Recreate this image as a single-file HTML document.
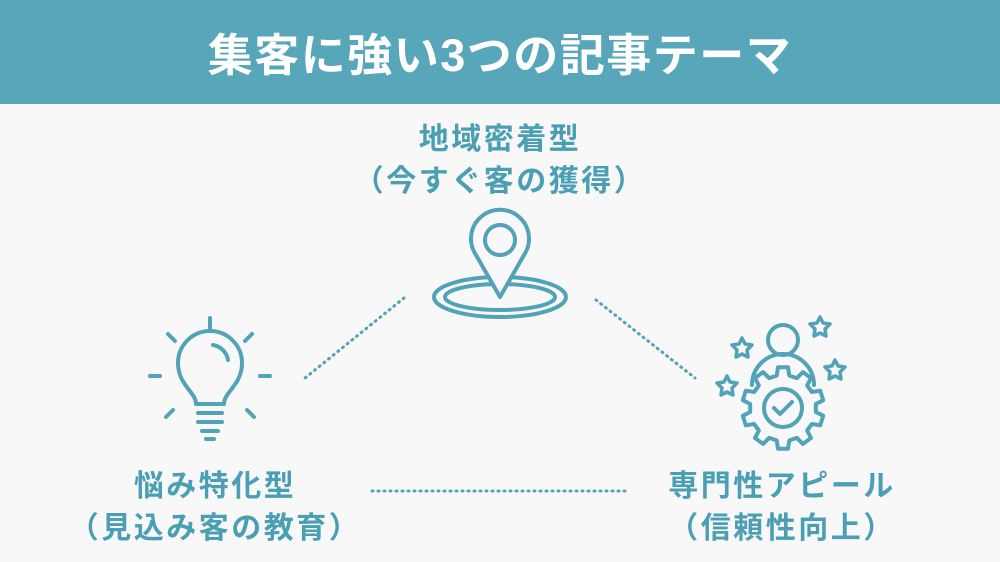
<!DOCTYPE html>
<html><head><meta charset="utf-8"><style>
body{margin:0;width:1000px;height:562px;background:#f8f8f8;overflow:hidden;font-family:"Liberation Sans","Noto Sans CJK JP",sans-serif;position:relative}
.hd{position:absolute;left:0;top:0;width:1000px;height:104px;background:#57a6b9;color:#fff;font-size:45px;font-weight:bold;text-align:center;line-height:112px;letter-spacing:1.5px}
.t{position:absolute;color:#4b9fb4;font-weight:bold;font-size:30px;text-align:center;width:400px;line-height:42px;letter-spacing:2.5px}
svg{position:absolute;left:0;top:0}
</style></head><body>
<div class="hd">集客に強い3つの記事テーマ</div>
<div class="t" style="left:300px;top:119px">地域密着型<br>（今すぐ客の獲得）</div>
<div class="t" style="left:15px;top:466px">悩み特化型<br>（見込み客の教育）</div>
<div class="t" style="left:582px;top:466px">専門性アピール<br>（信頼性向上）</div>
<svg width="1000" height="562" fill="none" stroke="#52a3b7" stroke-width="4" stroke-linecap="round" stroke-linejoin="round">
<g stroke-dasharray="1 5" stroke-width="3">
<line x1="404" y1="298" x2="305" y2="378"/>
<line x1="596" y1="300" x2="695" y2="378"/>
<line x1="372" y1="491" x2="626" y2="491"/>
</g>
<ellipse cx="500" cy="297" rx="66" ry="20"/>
<ellipse cx="500" cy="297" rx="55" ry="13"/>
<path d="M500 297 L476 255 A29 29 0 1 1 524 255 Z" fill="#f8f8f8"/>
<circle cx="500" cy="240" r="15"/>
<path d="M196 404 C196 392 178 385 178 363 A32 32 0 0 1 242 363 C242 385 224 392 224 404 Z"/>
<path d="M213 345 A18 18 0 0 1 228 360"/>
<line x1="198" y1="413" x2="222" y2="413"/><line x1="198" y1="422" x2="222" y2="422"/><line x1="202" y1="431" x2="218" y2="431"/><line x1="206" y1="439" x2="214" y2="439"/>
<line x1="210" y1="318" x2="210" y2="328"/>
<line x1="168" y1="334" x2="175" y2="341"/><line x1="252" y1="334" x2="245" y2="341"/>
<line x1="150" y1="376" x2="160" y2="376"/><line x1="260" y1="376" x2="270" y2="376"/>
<line x1="166" y1="417" x2="173" y2="410"/><line x1="254" y1="417" x2="247" y2="410"/>
<circle cx="783" cy="340" r="15"/>
<path d="M752 385 A31 31 0 0 1 814 385"/>
<path id="gear" d="" fill="#f8f8f8"/>
<circle cx="783" cy="408" r="19"/>
<path d="M774 408 l6 6 l12 -12"/>
<g stroke-width="3.5">
<path d="M742 338 l3 6 7 1 -5 5 1 7 -6 -3 -6 3 1 -7 -5 -5 7 -1z"/>
<path d="M820 317 l3 6 7 1 -5 5 1 7 -6 -3 -6 3 1 -7 -5 -5 7 -1z"/>
<path d="M727 376 l3 6 7 1 -5 5 1 7 -6 -3 -6 3 1 -7 -5 -5 7 -1z"/>
<path d="M835 360 l3 6 7 1 -5 5 1 7 -6 -3 -6 3 1 -7 -5 -5 7 -1z"/>
</g>
</svg>
<script>
(function(){var cx=783,cy=408,ri=33,ro=41,d="",n=10;
for(var i=0;i<n;i++){var a=i*360/n;var s=[[a-11,ri],[a-7,ro],[a+7,ro],[a+11,ri]];
for(var j=0;j<4;j++){var r=s[j][0]*Math.PI/180;var x=cx+s[j][1]*Math.sin(r),y=cy-s[j][1]*Math.cos(r);d+=(d?"L":"M")+x.toFixed(1)+" "+y.toFixed(1);}}
document.getElementById("gear").setAttribute("d",d+"Z");})();
</script>
</body></html>
